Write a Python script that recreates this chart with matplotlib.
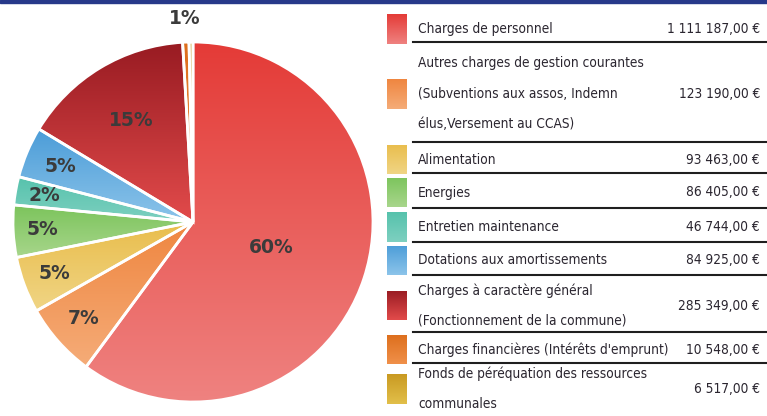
import matplotlib.pyplot as plt
from matplotlib.patches import Rectangle
from matplotlib.colors import to_rgb
import numpy as np

# données
categories = [
    "Charges de personnel",
    "Autres charges de gestion courantes\n(Subventions aux assos, Indemn\nélus,Versement au CCAS)",
    "Alimentation",
    "Energies",
    "Entretien maintenance",
    "Dotations aux amortissements",
    "Charges à caractère général\n(Fonctionnement de la commune)",
    "Charges financières (Intérêts d'emprunt)",
    "Fonds de péréquation des ressources\ncommunales",
]
values = [1111187, 123190, 93463, 86405, 46744, 84925, 285349, 10548, 6517]
pct_labels = ["60%", "7%", "5%", "5%", "2%", "5%", "15%", "1%", ""]

# couleurs (haut -> bas du dégradé)
col_top = ["#E43B37", "#EF8640", "#E9BD4C", "#7CC45C", "#56C2AC",
           "#4C9DD8", "#981B22", "#DD6E1C", "#C99A22"]
col_bot = ["#EF8280", "#F5AC78", "#F0D585", "#A8D68C", "#7ED0C0",
           "#8CC4EA", "#E24B4B", "#F0904A", "#E2BF4A"]

# mise en page
W, H = 767, 416
pct_dist = [0.46, 0.81, 0.82, 0.84, 0.84, 0.8, 0.66, 1.13, 1.0]
row_h = [30, 100, 31, 35, 34, 33, 57, 31, 48]


def gradient(axis, patch, c1, c2, extent):
    t = np.linspace(0, 1, 128)[:, None]
    img = (1 - t)[..., None] * np.array(to_rgb(c1)) + t[..., None] * np.array(to_rgb(c2))
    im = axis.imshow(img, extent=extent, origin="upper", aspect="auto",
                     interpolation="bilinear", zorder=1)
    im.set_clip_path(patch)


fig = plt.figure(figsize=(W / 100, H / 100), dpi=100)
fig.patch.set_facecolor("white")

# camembert
cx, cy, r = 193, 222, 180
ax = fig.add_axes([(cx - r) / W, (H - cy - r) / H, 2 * r / W, 2 * r / H])
wedges, _ = ax.pie(values, colors=col_top, startangle=90, counterclock=False,
                   wedgeprops=dict(edgecolor="white", linewidth=2))
for w, c1, c2 in zip(wedges, col_top, col_bot):
    bb = w.get_path().get_extents()
    gradient(ax, w, c1, c2, (bb.x0, bb.x1, bb.y0, bb.y1))
    w.set_facecolor("none")
    w.set_zorder(3)
ax.set_xlim(-1, 1)
ax.set_ylim(-1, 1)
ax.axis("off")
for w, lab, d in zip(wedges, pct_labels, pct_dist):
    if not lab:
        continue
    a = np.deg2rad((w.theta1 + w.theta2) / 2)
    ax.text(d * np.cos(a), d * np.sin(a), lab, ha="center", va="center",
            fontsize=13.5, fontweight="bold", color="#3b3b3b", clip_on=False,
            zorder=5)

# tableau à droite
ov = fig.add_axes([0, 0, 1, 1])
ov.set_xlim(0, W)
ov.set_ylim(H, 0)
ov.axis("off")
ov.add_patch(Rectangle((0, 0), W, 3, color="#27398A"))

fam = "DejaVu Sans"
y0 = 12
for i, (cat, v, c1, c2, h) in enumerate(zip(categories, values, col_top, col_bot, row_h)):
    yc = y0 + h / 2 + 2
    sq = Rectangle((387, yc - 15), 20, 30, facecolor="none", edgecolor="none")
    ov.add_patch(sq)
    gradient(ov, sq, c1, c2, (387, 407, yc + 15, yc - 15))
    ov.text(418, yc, cat, ha="left", va="center", fontsize=9.8, family=fam,
            fontstretch="condensed", color="#2b2630", linespacing=2.5)
    val = f"{v:,.2f}".replace(",", " ").replace(".", ",") + " €"
    ov.text(760, yc, val, ha="right", va="center", fontsize=9.8, family=fam,
            fontstretch="condensed", color="#2b2630")
    if i < len(categories) - 1:
        ov.plot([413, 767], [y0 + h, y0 + h], color="#1f1f1f", lw=1.5)
    y0 += h
ov.set_xlim(0, W)
ov.set_ylim(H, 0)

plt.savefig("out.png", dpi=100)
